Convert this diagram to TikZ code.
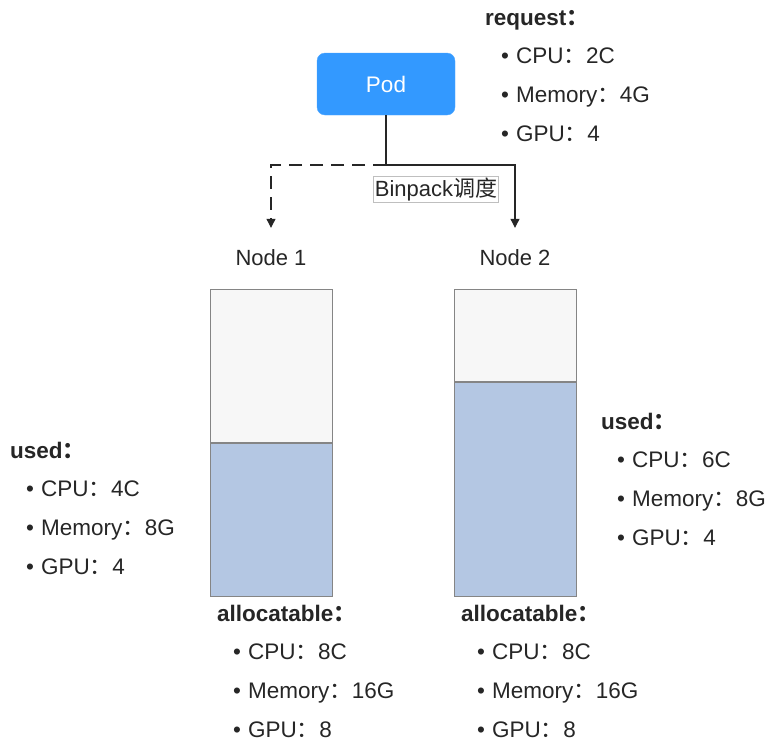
\documentclass[tikz,border=0pt]{standalone}
\usepackage{fontspec}
\setmainfont{Liberation Sans}
\newfontfamily\cjk{Noto Sans CJK SC}
\usetikzlibrary{positioning,arrows.meta}
\definecolor{podblue}{HTML}{3399FF}
\definecolor{frame}{HTML}{858585}
\definecolor{freefill}{HTML}{F7F7F7}
\definecolor{usedfill}{HTML}{B4C7E3}
\definecolor{ink}{HTML}{262626}
\newcommand{\fwc}{{\cjk ：}}
\newcommand{\itm}{\hspace*{16pt}•\hspace{7pt}}
\tikzset{
  podbox/.style={
    draw=podblue!85, fill=podblue, rounded corners=8pt,
    minimum width=138pt, minimum height=62pt, inner sep=0pt,
    text=white, font=\fontsize{22.5}{26}\selectfont},
  freebox/.style={
    draw=frame, line width=1.2pt, fill=freefill,
    minimum width=122pt, inner sep=0pt, anchor=north west},
  usedbox/.style={
    draw=frame, line width=1.2pt, fill=usedfill,
    minimum width=122pt, inner sep=0pt, anchor=north west},
  hostlbl/.style={
    inner sep=0pt, text height=15pt, text depth=0pt, text=ink,
    font=\fontsize{22}{26}\selectfont},
  % anchored at the baseline of the last line
  spec/.style={
    anchor=base west, inner sep=0pt, align=left, text=ink,
    font=\fontsize{22.5}{38.8}\selectfont},
  tag/.style={
    draw=black!25, line width=0.6pt, fill=white, inner sep=1.5pt,
    text=ink, font=\fontsize{22}{26}\selectfont},
  link/.style={draw=ink, line width=1.1pt},
  sched/.style={draw=ink, line width=1.1pt, -{Triangle[length=9pt,width=9pt]}},
}

\begin{document}
\begin{tikzpicture}[x=1pt, y=-1pt]
  \useasboundingbox (0,0) rectangle (776,742);

  \node[podbox] (pod) at (386,84) {Pod};
  \node[spec] (req) at (485,141.4)
    {\textbf{request\fwc}\\ \itm CPU\fwc 2C\\ \itm Memory\fwc 4G\\ \itm GPU\fwc 4};

  \node[hostlbl] (lbl1) at (271,258) {Node 1};
  \node[hostlbl] (lbl2) at (515,258) {Node 2};

  \coordinate (fork) at (386,165);
  \draw[link] (pod) -- (fork);
  \draw[sched, dash pattern=on 13pt off 8pt] (fork) -| ([yshift=22.5pt]lbl1.north);
  \draw[sched] (fork) -| ([yshift=22.5pt]lbl2.north);
  \node[tag] (binpack) at (436,189) {Binpack{\cjk 调度}};

  % node 1
  \node[freebox, minimum height=153pt] (free1) at (210,289) {};
  \node[usedbox, minimum height=153pt] (used1) at (free1.south west) {};
  \node[spec] (use1) at (10,574.4)
    {\textbf{used\fwc}\\ \itm CPU\fwc 4C\\ \itm Memory\fwc 8G\\ \itm GPU\fwc 4};
  \node[spec] (alloc1) at (217,737.4)
    {\textbf{allocatable\fwc}\\ \itm CPU\fwc 8C\\ \itm Memory\fwc 16G\\ \itm GPU\fwc 8};

  % node 2
  \node[freebox, minimum height=92pt] (free2) at (454,289) {};
  \node[usedbox, minimum height=214pt] (used2) at (free2.south west) {};
  \node[spec] (use2) at (601,545.4)
    {\textbf{used\fwc}\\ \itm CPU\fwc 6C\\ \itm Memory\fwc 8G\\ \itm GPU\fwc 4};
  \node[spec] (alloc2) at (461,737.4)
    {\textbf{allocatable\fwc}\\ \itm CPU\fwc 8C\\ \itm Memory\fwc 16G\\ \itm GPU\fwc 8};

\end{tikzpicture}
\end{document}
